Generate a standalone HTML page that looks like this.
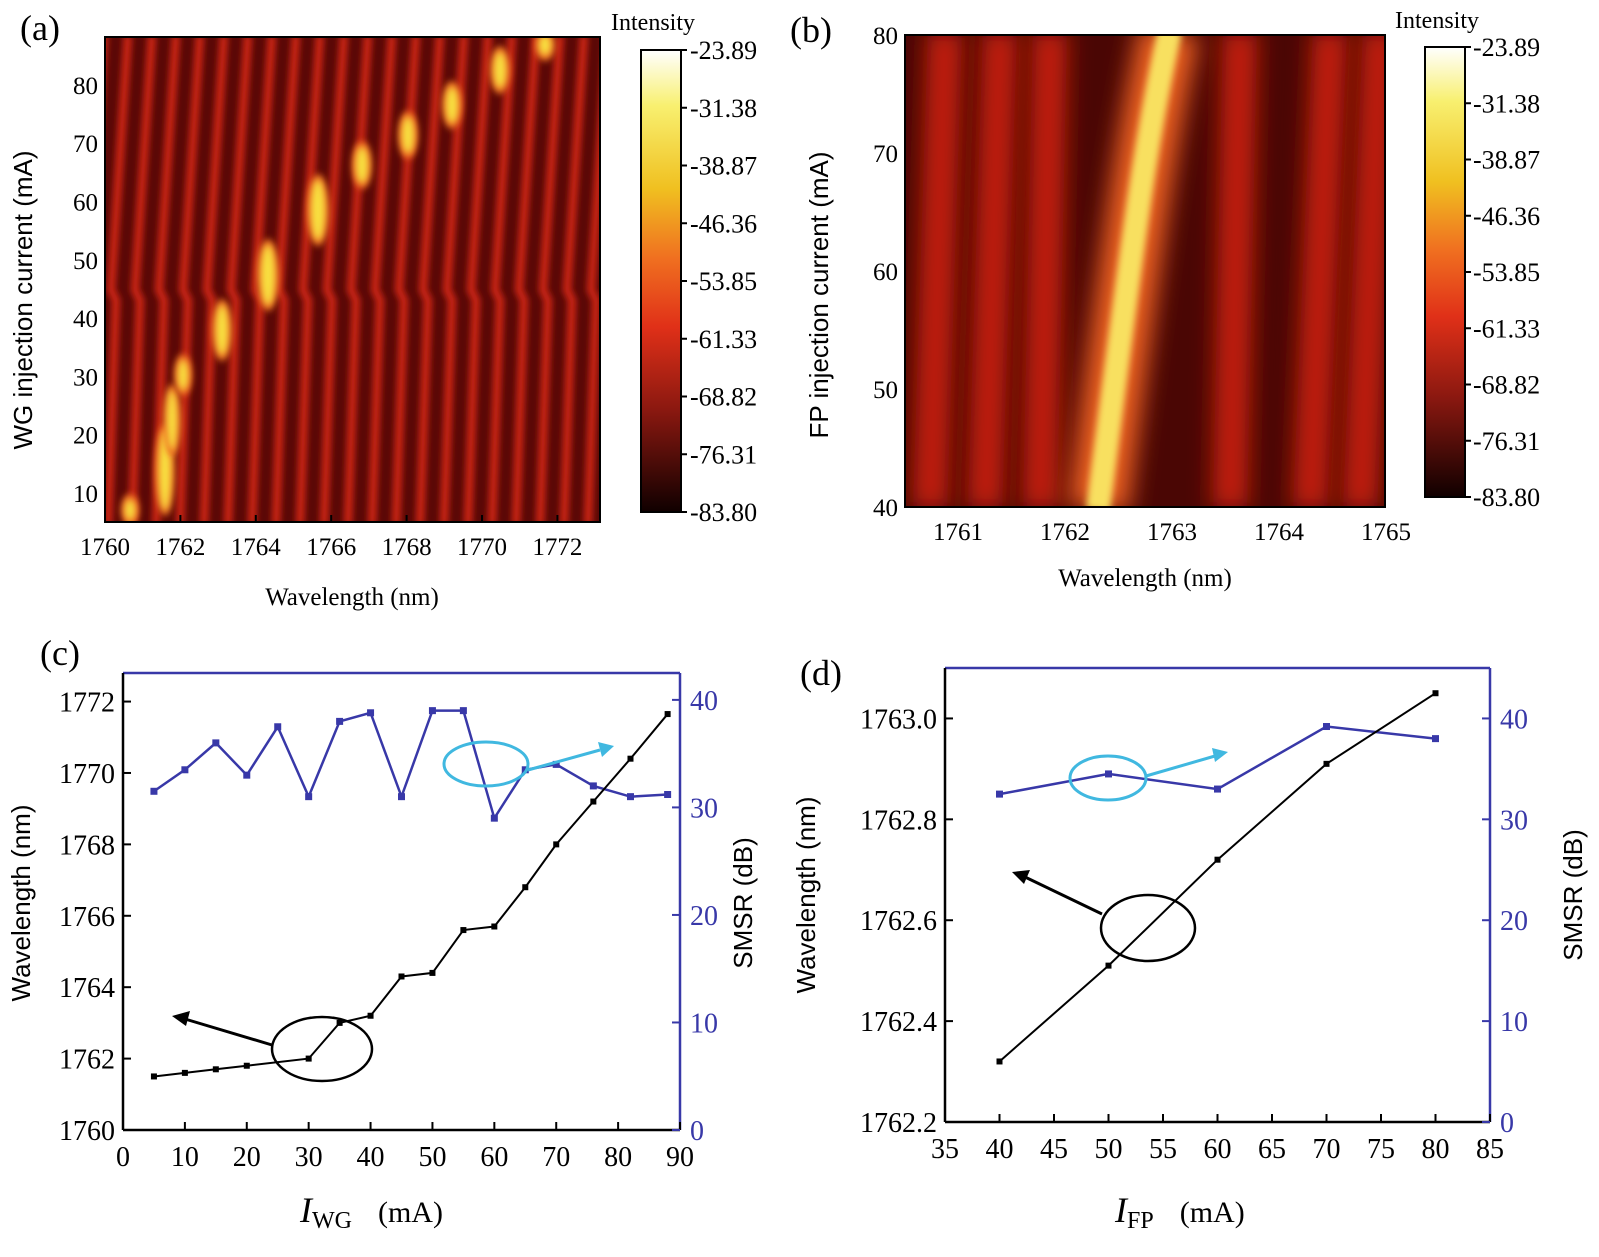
<!DOCTYPE html>
<html><head><meta charset="utf-8"><style>
body{margin:0;background:#fff;}
svg{display:block;font-family:"Liberation Serif",serif;}
</style></head><body>
<svg id="s" width="1599" height="1257" xmlns="http://www.w3.org/2000/svg">
<defs>
<filter id="b4" filterUnits="userSpaceOnUse" x="0" y="0" width="1599" height="1257"><feGaussianBlur stdDeviation="3.5"/></filter>
<filter id="b8" filterUnits="userSpaceOnUse" x="0" y="0" width="1599" height="1257"><feGaussianBlur stdDeviation="12"/></filter>
<linearGradient id="cb" x1="0" y1="0" x2="0" y2="1">
<stop offset="0" stop-color="#ffffff"/><stop offset="0.12" stop-color="#f8f070"/>
<stop offset="0.3" stop-color="#f0c020"/><stop offset="0.45" stop-color="#f07020"/>
<stop offset="0.6" stop-color="#e03018"/><stop offset="0.78" stop-color="#8a1810"/>
<stop offset="1" stop-color="#100000"/></linearGradient>
<clipPath id="ca"><rect x="105" y="37" width="495" height="485"/></clipPath>
<clipPath id="cbb"><rect x="905" y="35" width="480" height="472"/></clipPath>
</defs>
</svg>
<script>
const s=document.getElementById('s');let h=s.innerHTML;
function t(x,y,str,sz,anc,extra){h+=`<text x="${x}" y="${y}" font-size="${sz}" text-anchor="${anc||'start'}" ${extra||''}>${str}</text>`;}
h+=`<g clip-path="url(#ca)"><rect x="105" y="37" width="495" height="485" fill="#5a0806"/>`;
for(let i=-2;i<22;i++){let x=108+24*i;
h+=`<path d="M${x} 525 L${x+8} 300 L${x+3} 290 L${x+20} 35" stroke="#d42818" stroke-width="8" fill="none" filter="url(#b4)"/>`;}
[[165,470,6,40],[172,420,5,30],[183,375,5,15],[222,330,6,25],[268,275,7,30],[318,210,7,30],[362,165,6,18],[408,135,6,18],[452,105,6,18],[500,70,6,18],[545,45,6,10],[130,510,5,10]].forEach(e=>{
h+=`<ellipse cx="${e[0]}" cy="${e[1]}" rx="${e[2]+4}" ry="${e[3]+6}" fill="#f07020" filter="url(#b4)"/><ellipse cx="${e[0]}" cy="${e[1]}" rx="${e[2]}" ry="${e[3]}" fill="#f8e040" filter="url(#b4)"/>`;});
h+=`</g><rect x="105" y="37" width="495" height="485" fill="none" stroke="#000" stroke-width="2"/>`;
h+=`<g clip-path="url(#cbb)"><rect x="905" y="35" width="480" height="472" fill="#4a0604"/>`;
[[985,1000],[1040,1050],[1230,1240],[1310,1330],[930,945],[1360,1380]].forEach(p=>{
h+=`<path d="M${p[0]} 510 L${p[1]} 30" stroke="#c82010" stroke-width="34" fill="none" filter="url(#b8)"/>`;});
h+=`<path d="M1098 510 Q1125 300 1135 230 Q1150 120 1170 30" stroke="#ec6020" stroke-width="60" fill="none" filter="url(#b8)"/>`;
h+=`<path d="M1098 510 Q1125 300 1135 230 Q1150 120 1170 30" stroke="#f8e060" stroke-width="24" fill="none" filter="url(#b4)"/>`;
h+=`</g><rect x="905" y="35" width="480" height="472" fill="none" stroke="#000" stroke-width="2"/>`;
const cbl=["-23.89","-31.38","-38.87","-46.36","-53.85","-61.33","-68.82","-76.31","-83.80"];
function cbar(x,y0,y1,lx,ty){h+=`<rect x="${x}" y="${y0}" width="40" height="${y1-y0}" fill="url(#cb)" stroke="#000" stroke-width="2"/>`;
t(x-30,ty,"Intensity",24);
cbl.forEach((l,i)=>{let y=y0+(y1-y0)*i/8;h+=`<line x1="${x+40}" y1="${y}" x2="${x+46}" y2="${y}" stroke="#000" stroke-width="2"/>`;t(lx,y+9,l,26);});}
cbar(641,50,512,690,30);cbar(1425,47,497,1473,28);
for(let v=1760;v<=1772;v+=2){let x=105+(v-1760)*37.7;t(x,555,v,25,'middle');h+=`<line x1="${x}" y1="522" x2="${x}" y2="515" stroke="#000" stroke-width="2"/>`;}
for(let v=10;v<=80;v+=10){let y=493-(v-10)*5.83;t(98,y+9,v,25,'end');}
t(352,605,"Wavelength (nm)",25,'middle');
h+=`<text transform="translate(32,300) rotate(-90)" font-size="26" font-family="Liberation Sans" text-anchor="middle">WG injection current (mA)</text>`;
t(20,40,"(a)",36);
for(let v=1761;v<=1765;v++){let x=958+(v-1761)*107;t(x,540,v,25,'middle');}
for(let v=40;v<=80;v+=10){let y=507-(v-40)*11.8;t(898,y+9,v,25,'end');}
t(1145,586,"Wavelength (nm)",25,'middle');
h+=`<text transform="translate(828,295) rotate(-90)" font-size="26" font-family="Liberation Sans" text-anchor="middle">FP injection current (mA)</text>`;
t(790,42,"(b)",36);
function plot(o){const{x0,x1,y0,y1,xa,xb,la,lb,xt,lt,rt,black,blue}=o;
const X=v=>x0+(v-xa)/(xb-xa)*(x1-x0),YL=v=>y1-(v-la)/(lb-la)*(y1-y0),YR=v=>y1-v/o.rmax*(y1-y0);
h+=`<line x1="${x0}" y1="${y0}" x2="${x1}" y2="${y0}" stroke="#3838a8" stroke-width="2.5"/><line x1="${x1}" y1="${y0}" x2="${x1}" y2="${y1}" stroke="#3838a8" stroke-width="2.5"/>`;
h+=`<line x1="${x0}" y1="${y0}" x2="${x0}" y2="${y1}" stroke="#000" stroke-width="2.5"/><line x1="${x0}" y1="${y1}" x2="${x1}" y2="${y1}" stroke="#000" stroke-width="2.5"/>`;
xt.forEach(v=>{let x=X(v);h+=`<line x1="${x}" y1="${y1}" x2="${x}" y2="${y1-8}" stroke="#000" stroke-width="2"/>`;t(x,y1+36,v,28,'middle');});
lt.forEach(v=>{let y=YL(v);h+=`<line x1="${x0}" y1="${y}" x2="${x0+8}" y2="${y}" stroke="#000" stroke-width="2"/>`;t(x0-8,y+10,o.lf(v),28,'end');});
rt.forEach(v=>{let y=YR(v);h+=`<line x1="${x1}" y1="${y}" x2="${x1-8}" y2="${y}" stroke="#3838a8" stroke-width="2"/>`;t(x1+10,y+10,v,28,'start','fill="#3838a8"');});
h+=`<polyline points="${blue.map(p=>X(p[0])+','+YR(p[1])).join(' ')}" fill="none" stroke="#3838a8" stroke-width="2.5"/>`;
blue.forEach(p=>h+=`<rect x="${X(p[0])-3.5}" y="${YR(p[1])-3.5}" width="7" height="7" fill="#3838a8"/>`);
h+=`<polyline points="${black.map(p=>X(p[0])+','+YL(p[1])).join(' ')}" fill="none" stroke="#000" stroke-width="2"/>`;
black.forEach(p=>h+=`<rect x="${X(p[0])-3}" y="${YL(p[1])-3}" width="6" height="6" fill="#000"/>`);}
plot({x0:123,x1:680,y0:673,y1:1130,xa:0,xb:90,la:1760,lb:1772.8,rmax:42.5,xt:[0,10,20,30,40,50,60,70,80,90],lt:[1760,1762,1764,1766,1768,1770,1772],rt:[0,10,20,30,40],lf:v=>v,
black:[[5,1761.5],[10,1761.6],[15,1761.7],[20,1761.8],[30,1762.0],[35,1763.0],[40,1763.2],[45,1764.3],[50,1764.4],[55,1765.6],[60,1765.7],[65,1766.8],[70,1768.0],[76,1769.2],[82,1770.4],[88,1771.65]],
blue:[[5,31.5],[10,33.5],[15,36],[20,33],[25,37.5],[30,31],[35,38],[40,38.8],[45,31],[50,39],[55,39],[60,29],[65,33.5],[70,34],[76,32],[82,31],[88,31.2]]});
plot({x0:945,x1:1490,y0:668,y1:1122,xa:35,xb:85,la:1762.2,lb:1763.1,rmax:45,xt:[35,40,45,50,55,60,65,70,75,80,85],lt:[1762.2,1762.4,1762.6,1762.8,1763.0],rt:[0,10,20,30,40],lf:v=>v.toFixed(1),
black:[[40,1762.32],[50,1762.51],[60,1762.72],[70,1762.91],[80,1763.05]],
blue:[[40,32.5],[50,34.5],[60,33],[70,39.2],[80,38]]});
h+=`<ellipse cx="322" cy="1049" rx="50" ry="32" fill="none" stroke="#000" stroke-width="2.5"/><line x1="272" y1="1045" x2="185" y2="1019" stroke="#000" stroke-width="3"/><polygon points="172,1016 190,1011 186,1026" fill="#000"/>`;
h+=`<ellipse cx="486" cy="764" rx="42" ry="22" fill="none" stroke="#40b8e0" stroke-width="3"/><line x1="528" y1="770" x2="600" y2="750" stroke="#40b8e0" stroke-width="3"/><polygon points="614,746 598,742 602,757" fill="#40b8e0"/>`;
h+=`<ellipse cx="1148" cy="928" rx="47" ry="33" fill="none" stroke="#000" stroke-width="2.5"/><line x1="1102" y1="914" x2="1025" y2="877" stroke="#000" stroke-width="3"/><polygon points="1012,872 1030,870 1024,884" fill="#000"/>`;
h+=`<ellipse cx="1108" cy="778" rx="38" ry="22" fill="none" stroke="#40b8e0" stroke-width="3"/><line x1="1146" y1="776" x2="1215" y2="756" stroke="#40b8e0" stroke-width="3"/><polygon points="1228,752 1212,748 1215,762" fill="#40b8e0"/>`;
t(40,665,"(c)",36);t(800,685,"(d)",36);
h+=`<text transform="translate(30,903) rotate(-90)" font-size="26" font-family="Liberation Sans" text-anchor="middle">Wavelength (nm)</text>`;
h+=`<text transform="translate(752,903) rotate(-90)" font-size="26" font-family="Liberation Sans" text-anchor="middle">SMSR (dB)</text>`;
h+=`<text transform="translate(815,895) rotate(-90)" font-size="26" font-family="Liberation Sans" text-anchor="middle">Wavelength (nm)</text>`;
h+=`<text transform="translate(1582,895) rotate(-90)" font-size="26" font-family="Liberation Sans" text-anchor="middle">SMSR (dB)</text>`;
h+=`<text x="300" y="1222" font-size="36"><tspan font-style="italic">I</tspan><tspan font-size="24" dy="6">WG</tspan><tspan dy="-6" font-size="30" dx="26">(mA)</tspan></text>`;
h+=`<text x="1115" y="1222" font-size="36"><tspan font-style="italic">I</tspan><tspan font-size="24" dy="6">FP</tspan><tspan dy="-6" font-size="30" dx="26">(mA)</tspan></text>`;
s.innerHTML=h;
</script>
</body></html>
